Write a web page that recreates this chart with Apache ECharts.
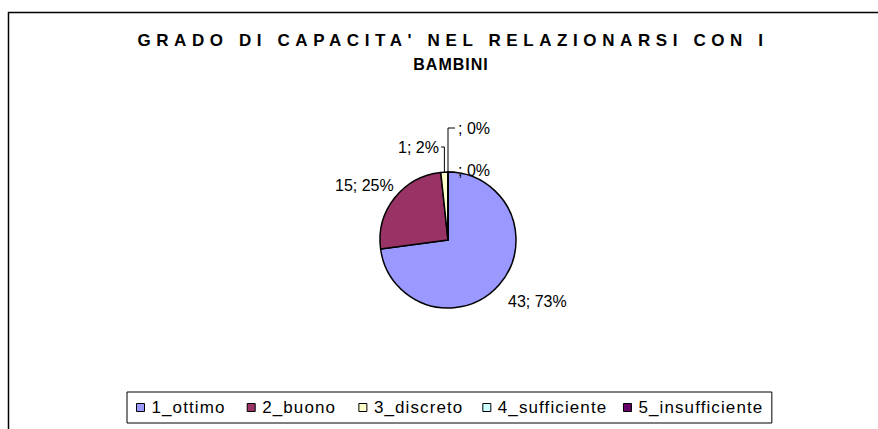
<!DOCTYPE html>
<html>
<head>
<meta charset="utf-8">
<script src="https://cdn.jsdelivr.net/npm/echarts@6/dist/echarts.min.js"></script>
<style>
  html, body { margin: 0; padding: 0; background: #fff; }
  #chart { width: 878px; height: 429px; }
</style>
</head>
<body>
<div id="chart"></div>
<script>
// dati
var categorie = ['1_ottimo', '2_buono', '3_discreto', '4_sufficiente', '5_insufficiente'];
var valori = [43, 15, 1, null, null];
var colori = ['#9999ff', '#993366', '#ffffcc', '#ccffff', '#660066'];
var titolo = ["GRADO DI CAPACITA' NEL RELAZIONARSI CON I", 'BAMBINI'];

var FONT = 'Liberation Sans, Arial, sans-serif';
var totale = valori.reduce(function (s, v) { return s + (v || 0); }, 0);

// posizione delle etichette (stile Excel)
var posEtichette = [
    { x: 508, y: 301, align: 'left' },
    { x: 335, y: 185, align: 'left' },
    { x: 439, y: 147, align: 'right' },
    { x: 458, y: 128, align: 'left' },
    { x: 458, y: 170, align: 'left' }
];

// spaziatura delle lettere (applicata al testo svg dopo il rendering)
var spazioTitolo = 5.6;
var spazioLegenda = 1.1;

var myChart = echarts.init(document.getElementById('chart'), null, { renderer: 'svg' });

var pieData = categorie.map(function (nome, i) {
    return {
        name: nome,
        value: valori[i] || 0,
        itemStyle: { color: colori[i] },
        labelLine: { show: i >= 2 }
    };
});

myChart.setOption({
    animation: false,
    legend: {
        data: categorie,
        left: 127,
        top: 392,
        icon: 'rect',
        itemWidth: 8,
        itemHeight: 8,
        // gap e padding destro piu' larghi per lo spazio tra le lettere
        itemGap: 30,
        borderColor: '#000',
        borderWidth: 1,
        padding: [7, 25, 7, 9],
        itemStyle: { borderColor: '#000', borderWidth: 1 },
        textStyle: {
            fontFamily: FONT,
            fontSize: 17,
            color: '#000',
            padding: [0, 0, 0, 2]
        }
    },
    graphic: [{
        type: 'rect',
        shape: { x: 8.5, y: 12.5, width: 1000, height: 1000 },
        style: { fill: 'none', stroke: '#000', lineWidth: 1.5 },
        silent: true
    }, {
        type: 'text',
        x: 453,
        y: 40,
        style: {
            text: titolo[0],
            font: 'bold 17px ' + FONT,
            fill: '#000',
            textAlign: 'center',
            textVerticalAlign: 'middle'
        }
    }, {
        type: 'text',
        x: 451,
        y: 64,
        style: {
            text: titolo[1],
            font: 'bold 16px ' + FONT,
            fill: '#000',
            textAlign: 'center',
            textVerticalAlign: 'middle'
        }
    }],
    series: [{
        type: 'pie',
        center: [448, 240],
        radius: [0, 68],
        startAngle: 90,
        clockwise: true,
        minShowLabelAngle: 0,
        itemStyle: { borderColor: '#000', borderWidth: 1.5 },
        label: {
            show: true,
            position: 'outside',
            fontFamily: FONT,
            fontSize: 16,
            color: '#000',
            formatter: function (p) {
                var v = valori[p.dataIndex];
                var perc = totale ? Math.round((v || 0) / totale * 100) : 0;
                return (v == null ? '' : v) + '; ' + perc + '%';
            }
        },
        labelLine: { lineStyle: { color: '#000', width: 1 } },
        labelLayout: function (p) {
            var pos = posEtichette[p.dataIndex];
            var out = { x: pos.x, y: pos.y, align: pos.align, verticalAlign: 'middle' };
            var pts = p.labelLinePoints;
            if (pts && pts.length) {
                var s = pts[0];
                if (p.dataIndex === 2) {
                    out.labelLinePoints = [s, [s[0], pos.y], [pos.x + 2, pos.y]];
                } else if (p.dataIndex === 3) {
                    out.labelLinePoints = [s, [s[0], pos.y], [pos.x - 3, pos.y]];
                } else if (p.dataIndex === 4) {
                    out.labelLinePoints = [s, [pos.x - 3, s[1]], [pos.x - 3, s[1]]];
                }
            }
            return out;
        },
        emphasis: { disabled: true },
        data: pieData
    }]
});

// lettere spaziate come nel grafico originale
document.querySelectorAll('#chart svg text').forEach(function (t) {
    var s = t.textContent;
    if (s === titolo[0]) {
        t.style.letterSpacing = spazioTitolo + 'px';
    } else if (s === titolo[1]) {
        t.style.letterSpacing = '1px';
    } else if (categorie.indexOf(s) >= 0) {
        t.style.letterSpacing = spazioLegenda + 'px';
    }
});
</script>
</body>
</html>
